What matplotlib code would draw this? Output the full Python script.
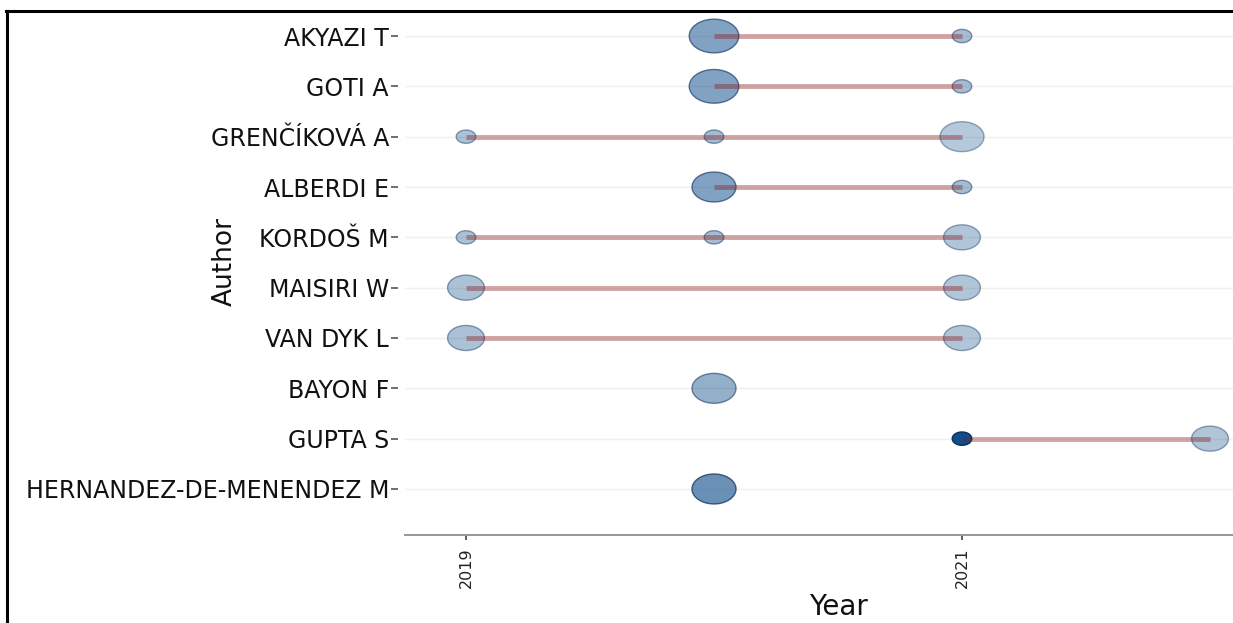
import numpy as np
import matplotlib
matplotlib.use("Agg")
import matplotlib.pyplot as plt
from matplotlib.path import Path
from matplotlib.colors import to_rgba
from matplotlib.lines import Line2D

# ---------------- data ----------------
authors = ["AKYAZI T", "GOTI A", "GRENČÍKOVÁ A", "ALBERDI E", "KORDOŠ M",
           "MAISIRI W", "VAN DYK L", "BAYON F", "GUPTA S", "HERNANDEZ-DE-MENENDEZ M"]

point_author = ["AKYAZI T", "AKYAZI T",
                "GOTI A", "GOTI A",
                "GRENČÍKOVÁ A", "GRENČÍKOVÁ A", "GRENČÍKOVÁ A",
                "ALBERDI E", "ALBERDI E",
                "KORDOŠ M", "KORDOŠ M", "KORDOŠ M",
                "MAISIRI W", "MAISIRI W",
                "VAN DYK L", "VAN DYK L",
                "BAYON F",
                "GUPTA S", "GUPTA S",
                "HERNANDEZ-DE-MENENDEZ M"]
point_year = [2020, 2021,
              2020, 2021,
              2019, 2020, 2021,
              2020, 2021,
              2019, 2020, 2021,
              2019, 2021,
              2019, 2021,
              2020,
              2021, 2022,
              2020]
point_freq = [4, 1,
              4, 1,
              1, 1, 3,
              3, 1,
              1, 1, 2,
              2, 2,
              2, 2,
              3,
              1, 2,
              3]
point_tcpy = [11, 5,
              11, 5,
              4, 5, 2,
              11, 5,
              4, 5, 3,
              4, 3,
              4, 3,
              8,
              30, 3,
              15]

xtick_years = [2019, 2021]

# ---------------- figure ----------------
W, H, DPI = 1233, 623, 100
fig = plt.figure(figsize=(W / DPI, H / DPI), dpi=DPI)
plt.rcParams['font.family'] = ['DejaVu Sans']

ax_left, ax_right, ax_top, ax_bottom = 405, 1233, 10, 535
ax = fig.add_axes([ax_left / W, 1 - ax_bottom / H,
                   (ax_right - ax_left) / W, (ax_bottom - ax_top) / H])

n = len(authors)
ypos = {a: n - 1 - i for i, a in enumerate(authors)}

row_px = 50.3
ax.set_ylim(-(ax_bottom - 489) / row_px, (n - 1) + (36 - ax_top) / row_px)
year_px = 248.0
ax.set_xlim(2019 - (466 - ax_left) / year_px, 2022 + (ax_right - 1210) / year_px)

# grid lines
for a in authors:
    ax.axhline(ypos[a], color="#efefef", lw=1.0, zorder=0)

# points
px2pt = 72.0 / DPI
aspect = 1.47
theta = np.linspace(0, 2 * np.pi, 73)
ell = Path(np.column_stack([aspect * np.cos(theta), np.sin(theta)]), closed=True)

freq = np.array(point_freq, dtype=float)
fmin, fmax = freq.min(), freq.max()
h_px = 13.3 + 20.4 * np.sqrt((freq - fmin) / (fmax - fmin))
w_pt = aspect * h_px * px2pt
sizes = w_pt ** 2

tc = np.array(point_tcpy, dtype=float)
alphas = 0.3 + 0.7 * (tc - tc.min()) / (tc.max() - tc.min())
base = "#104E8B"
cols = [to_rgba(base, a) for a in alphas]
edge_cols = [to_rgba("#0A2F5C", min(1.0, a + 0.1)) for a in alphas]

xs = np.array(point_year, dtype=float)
ys = np.array([ypos[a] for a in point_author], dtype=float)
ax.scatter(xs, ys, s=sizes, marker=ell, c=cols, edgecolors=edge_cols,
           linewidths=1.0, zorder=2, clip_on=False)

# lines from first to last year
for a in authors:
    yrs = [yr for au, yr in zip(point_author, point_year) if au == a]
    if len(yrs) > 1:
        ax.plot([min(yrs), max(yrs)], [ypos[a], ypos[a]], color="#8B1A1A",
                alpha=0.38, lw=5 * px2pt, solid_capstyle="butt", zorder=3)

# axes styling
for s in ["top", "right", "left"]:
    ax.spines[s].set_visible(False)
ax.spines["bottom"].set_color("#999999")
ax.spines["bottom"].set_linewidth(2 * px2pt)
ax.spines["left"].set_position(("outward", 5))

ax.set_yticks([ypos[a] for a in authors])
ax.set_yticklabels(authors, fontsize=17, color="#111111")
ax.tick_params(axis="y", length=7 * px2pt, width=1.2, color="#555555", pad=1.5)

ax.set_xticks(xtick_years)
ax.set_xticklabels([str(y) for y in xtick_years], rotation=90, fontsize=11.5,
                   color="#222222")
ax.tick_params(axis="x", length=5 * px2pt, width=1.2, color="#444444", pad=5)

# axis titles
fig.text(225 / W, 1 - 261 / H, "Author", rotation=90, fontsize=19,
         ha="center", va="center", color="#111111")
fig.text(838 / W, 2 / H, "Year", fontsize=20, ha="center",
         va="bottom", color="#111111")

# outer frame
fig.add_artist(Line2D([5.5 / W, 1.0], [1 - 10.5 / H, 1 - 10.5 / H],
                      transform=fig.transFigure, color="black", lw=2.2))
fig.add_artist(Line2D([6.5 / W, 6.5 / W], [0, 1 - 10.5 / H],
                      transform=fig.transFigure, color="black", lw=2.2))

fig.savefig("out.png", dpi=DPI)
